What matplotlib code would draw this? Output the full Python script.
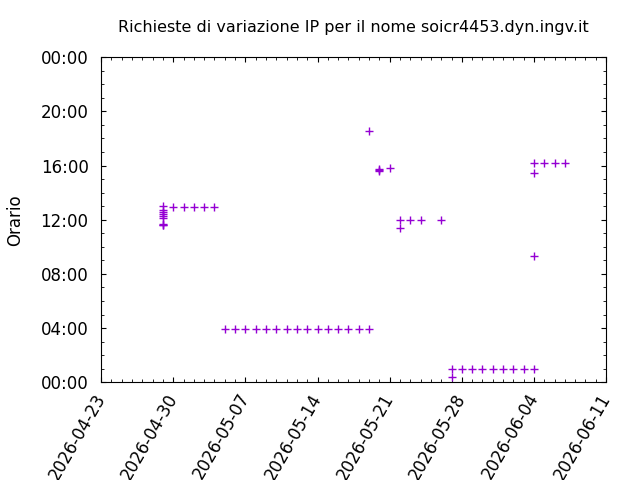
import matplotlib
matplotlib.use("Agg")
import matplotlib.pyplot as plt
import matplotlib.dates as mdates
from matplotlib.ticker import FuncFormatter, MultipleLocator, FixedLocator
import pandas as pd

dates = (["2026-04-29"] * 9
         + ["2026-04-30", "2026-05-01", "2026-05-02", "2026-05-03", "2026-05-04"]
         + [f"2026-05-{d:02d}" for d in range(5, 20)]
         + ["2026-05-19", "2026-05-20", "2026-05-20", "2026-05-20", "2026-05-21",
            "2026-05-22", "2026-05-22", "2026-05-23", "2026-05-24", "2026-05-26",
            "2026-05-27", "2026-05-27"]
         + ["2026-05-28", "2026-05-29", "2026-05-30", "2026-05-31",
            "2026-06-01", "2026-06-02", "2026-06-03", "2026-06-04"]
         + ["2026-06-04", "2026-06-04", "2026-06-04", "2026-06-05", "2026-06-06", "2026-06-07"])
times = (["13:01", "12:41", "12:33", "12:26", "12:18", "12:08", "11:41", "11:38", "11:36"]
         + ["12:55"] * 5
         + ["03:57"] * 15
         + ["18:32", "15:36", "15:40", "15:44", "15:49",
            "12:00", "11:24", "12:00", "12:00", "12:00",
            "01:00", "00:22"]
         + ["01:00"] * 8
         + ["16:09", "15:26", "09:21", "16:09", "16:09", "16:09"])
x_ticks = ["2026-04-23", "2026-04-30", "2026-05-07", "2026-05-14",
           "2026-05-21", "2026-05-28", "2026-06-04", "2026-06-11"]

x = mdates.date2num(pd.to_datetime(dates).to_pydatetime())
y = [int(t[:2]) + int(t[3:]) / 60 for t in times]
xt = mdates.date2num(pd.to_datetime(x_ticks).to_pydatetime())

fig = plt.figure(figsize=(6.4, 4.8), dpi=100)
ax = fig.add_axes([0.158, 0.2035, 0.789, 0.6775])
ax.plot(x, y, linestyle="none", marker="+", color="#9400D3", markersize=6, markeredgewidth=1)

ax.set_xlim(xt[0], xt[-1])
ax.set_ylim(0, 24)
ax.xaxis.set_major_locator(FixedLocator(xt))
ax.xaxis.set_minor_locator(MultipleLocator(1))
ax.xaxis.set_major_formatter(FuncFormatter(lambda v, p: mdates.num2date(v).strftime("%Y-%m-%d")))
ax.yaxis.set_major_locator(MultipleLocator(4))
ax.yaxis.set_minor_locator(MultipleLocator(1))
ax.yaxis.set_major_formatter(FuncFormatter(lambda v, p: f"{int(round(v)) % 24:02d}:00"))
ax.tick_params(which="both", direction="in", top=True, right=True, labelsize=12)
ax.tick_params(axis="y", which="major", pad=9)
ax.tick_params(axis="x", which="major", pad=9)
plt.setp(ax.get_xticklabels(), rotation=60, ha="right", va="center", rotation_mode="anchor")
ax.set_ylabel("Orario", fontsize=12, labelpad=12)
ax.set_title("Richieste di variazione IP per il nome soicr4453.dyn.ingv.it", fontsize=11.5, pad=18)

fig.savefig("out.png", dpi=100)
